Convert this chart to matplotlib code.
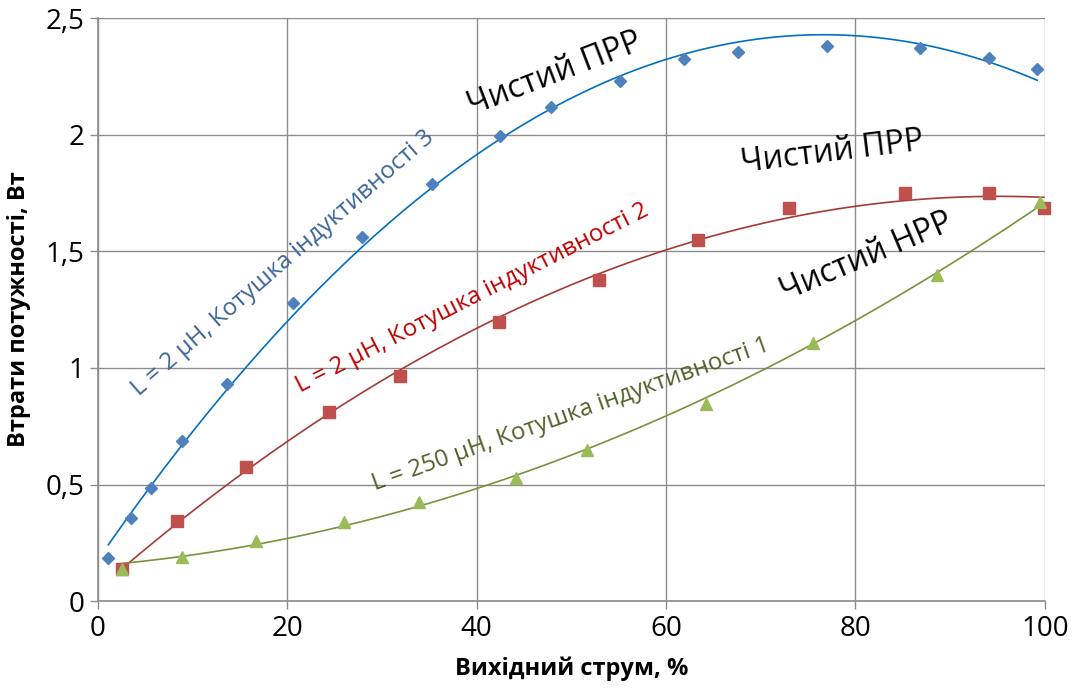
import numpy as np
import matplotlib.pyplot as plt

plt.rcParams['font.family'] = ['Open Sans', 'DejaVu Sans']

# measured points: output current (%) vs loss (W)
x3 = [1.1, 3.5, 5.6, 8.9, 13.6, 20.6, 27.9, 35.3, 42.5, 47.9, 55.1, 61.9, 67.6, 77.0, 86.8, 94.1, 99.2]
y3 = [0.184, 0.356, 0.485, 0.686, 0.93, 1.28, 1.56, 1.79, 1.995, 2.12, 2.23, 2.325, 2.355, 2.38, 2.373, 2.33, 2.28]

x2 = [2.5, 8.4, 15.6, 24.4, 31.9, 42.4, 52.9, 63.4, 73.0, 85.2, 94.1, 99.9]
y2 = [0.137, 0.343, 0.575, 0.81, 0.965, 1.196, 1.377, 1.55, 1.687, 1.752, 1.748, 1.685]

x1 = [2.5, 8.9, 16.7, 26.0, 33.9, 44.2, 51.6, 64.2, 75.5, 88.6, 99.5]
y1 = [0.14, 0.19, 0.26, 0.34, 0.425, 0.53, 0.65, 0.847, 1.105, 1.40, 1.71]

xticks = [0, 20, 40, 60, 80, 100]
yticks = [0, 0.5, 1, 1.5, 2, 2.5]
ytick_labels = ['0', '0,5', '1', '1,5', '2', '2,5']

fig = plt.figure(figsize=(10.76, 6.95), dpi=100)
ax = fig.add_axes([0.091, 0.135, 0.880, 0.839])

def trend(x, y, color):
    c = np.polyfit(x, y, 2)
    xs = np.linspace(min(x), max(x), 200)
    ax.plot(xs, np.polyval(c, xs), color=color, lw=1.2, zorder=3)

ax.plot(x3, y3, 'D', color='#4F81BD', ms=6, zorder=4, clip_on=False)
ax.plot(x2, y2, 's', color='#C0504D', ms=8.5, zorder=4, clip_on=False)
ax.plot(x1, y1, '^', color='#9BBB59', ms=8.5, zorder=4, clip_on=False)
trend(x3, y3, '#0070C0')
trend(x2, y2, '#A33B38')
trend(x1, y1, '#77933C')

ax.set_xlim(0, 100)
ax.set_ylim(0, 2.5)
ax.set_xticks(xticks)
ax.set_yticks(yticks)
ax.set_yticklabels(ytick_labels)
ax.grid(True, color='#8C8C8C', lw=1.0)
ax.set_axisbelow(True)
for s in ['top', 'right']:
    ax.spines[s].set_visible(False)
for s in ['left', 'bottom']:
    ax.spines[s].set_color('#8C8C8C')
    ax.spines[s].set_linewidth(1.2)
ax.tick_params(axis='both', direction='out', length=6, width=1, color='#8C8C8C',
               labelsize=20, pad=4)

ax.set_xlabel('Вихідний струм, %', fontsize=17, fontweight='bold', labelpad=10)
ax.set_ylabel('Втрати потужності, Вт', fontsize=17, fontweight='bold', labelpad=10)

kw = dict(ha='center', va='center', rotation_mode='anchor', zorder=5)
ax.text(19.6, 1.45, 'L = 2 µH, Котушка індуктивності 3', color='#3C6496',
        fontsize=17.5, rotation=41, **kw)
ax.text(39.6, 1.30, 'L = 2 µH, Котушка індуктивності 2', color='#C00000',
        fontsize=17.5, rotation=27, **kw)
ax.text(50.0, 0.80, 'L = 250 µH, Котушка індуктивності 1', color='#4F6228',
        fontsize=17.5, rotation=19.5, **kw)
ax.text(48.3, 2.26, 'Чистий ПРР', color='black', fontsize=23, rotation=21, **kw)
ax.text(77.6, 1.925, 'Чистий ПРР', color='black', fontsize=23, rotation=7, **kw)
ax.text(81.2, 1.475, 'Чистий НРР', color='black', fontsize=23, rotation=23, **kw)

fig.savefig('out.png', dpi=100)
